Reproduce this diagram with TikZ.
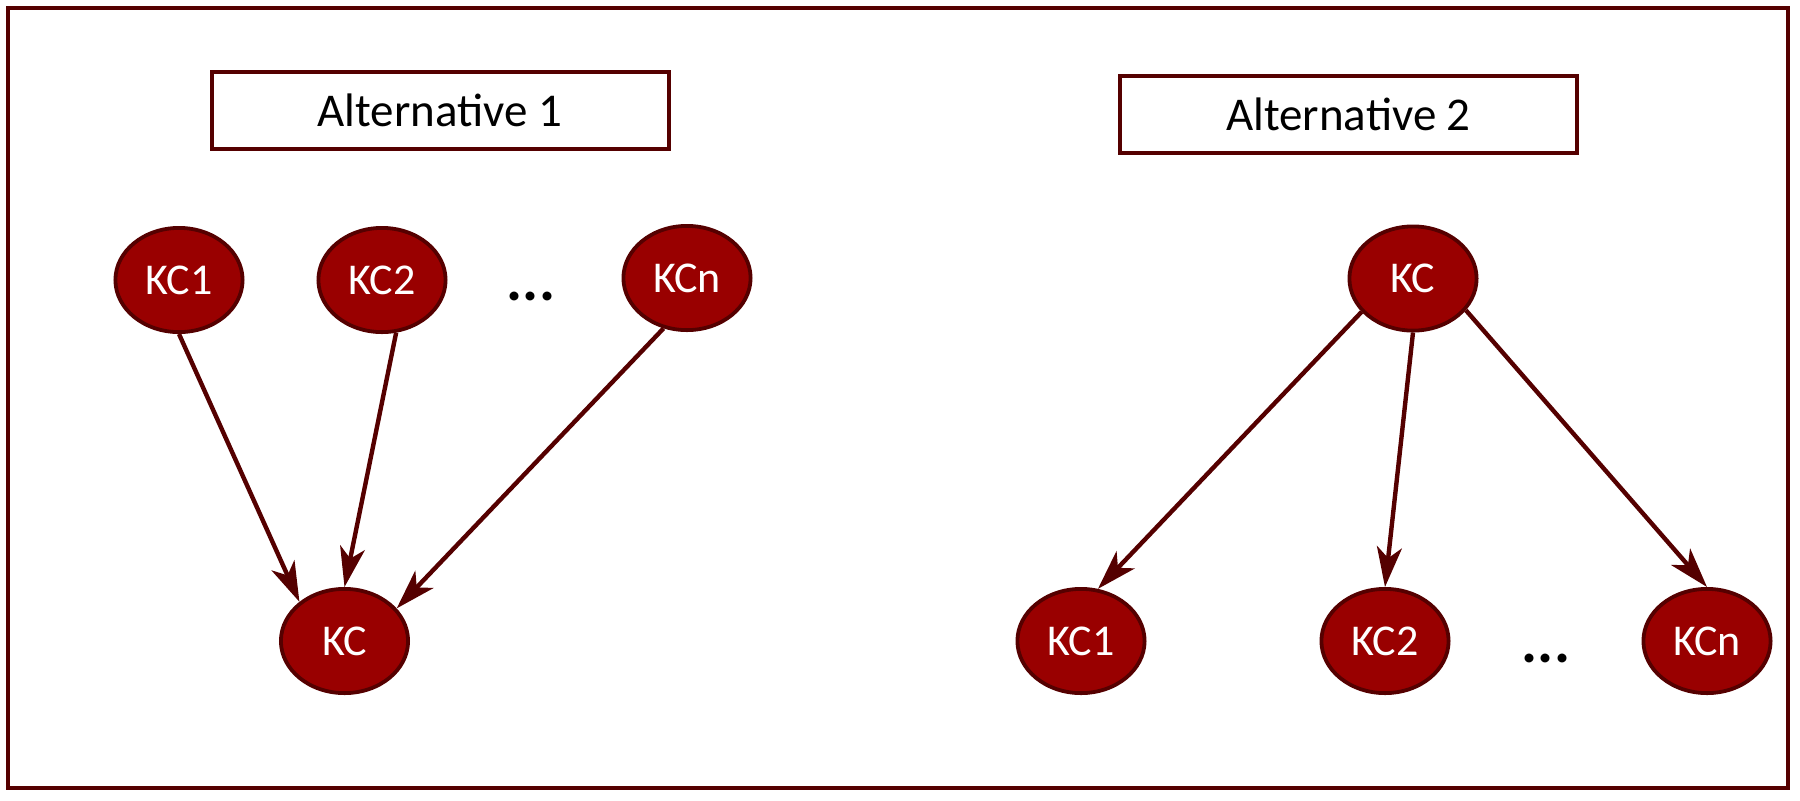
\documentclass[tikz,border=0pt]{standalone}
\usepackage{fontspec}
\setmainfont{Carlito}
\usetikzlibrary{shapes.geometric,arrows.meta}
\definecolor{edgec}{RGB}{85,0,0}
\definecolor{fillc}{RGB}{153,0,0}
\begin{document}
\begin{tikzpicture}[x=0.5pt,y=-0.5pt,
  kcnode/.style={ellipse,draw=edgec,fill=fillc,line width=1.9pt,minimum width=63.6pt,minimum height=52.1pt,inner sep=0pt,text=white,font=\fontsize{22}{24}\selectfont},
  altbox/.style={rectangle,draw=edgec,line width=2pt,minimum width=228.5pt,minimum height=38.5pt,inner sep=0pt,font=\fontsize{23.5}{26}\selectfont},
  dotstext/.style={font=\fontsize{30}{32}\selectfont\bfseries,anchor=base,inner sep=0pt},
  link/.style={draw=edgec,line width=2.2pt,-{Stealth[length=20pt,width=12.5pt,inset=5.5pt]}}]
\useasboundingbox (0,0) rectangle (1800,800);
\draw[edgec,line width=2pt] (7.5,8.3) rectangle (1787.5,788);
% headings
\node[altbox] (alt1) at (440,110.5) {Alternative 1};
\node[altbox] (alt2) at (1348.5,114.5) {Alternative 2};
% alternative 1
\node[kcnode] (a1) at (179,280) {KC1};
\node[kcnode] (a2) at (382,280) {KC2};
\node[kcnode] (an) at (687,278) {KCn};
\node[kcnode] (ak) at (344.5,641) {KC};
\node[dotstext] (adots) at (531,300) {...};
\draw[link] (a1.south) -- (ak.139);
\draw[link] (a2.285) -- (ak.north);
\draw[link] (an.245) -- (ak.32);
% alternative 2
\node[kcnode] (bk) at (1413,278.5) {KC};
\node[kcnode] (b1) at (1081,641) {KC1};
\node[kcnode] (b2) at (1385,641) {KC2};
\node[kcnode] (bn) at (1707,641) {KCn};
\node[dotstext] (bdots) at (1546,662) {...};
\draw[link] (bk.213.7) -- (b1.72.5);
\draw[link] (bk.south) -- (b2.north);
\draw[link] (bk.329.7) -- (bn.north);
\end{tikzpicture}
\end{document}
